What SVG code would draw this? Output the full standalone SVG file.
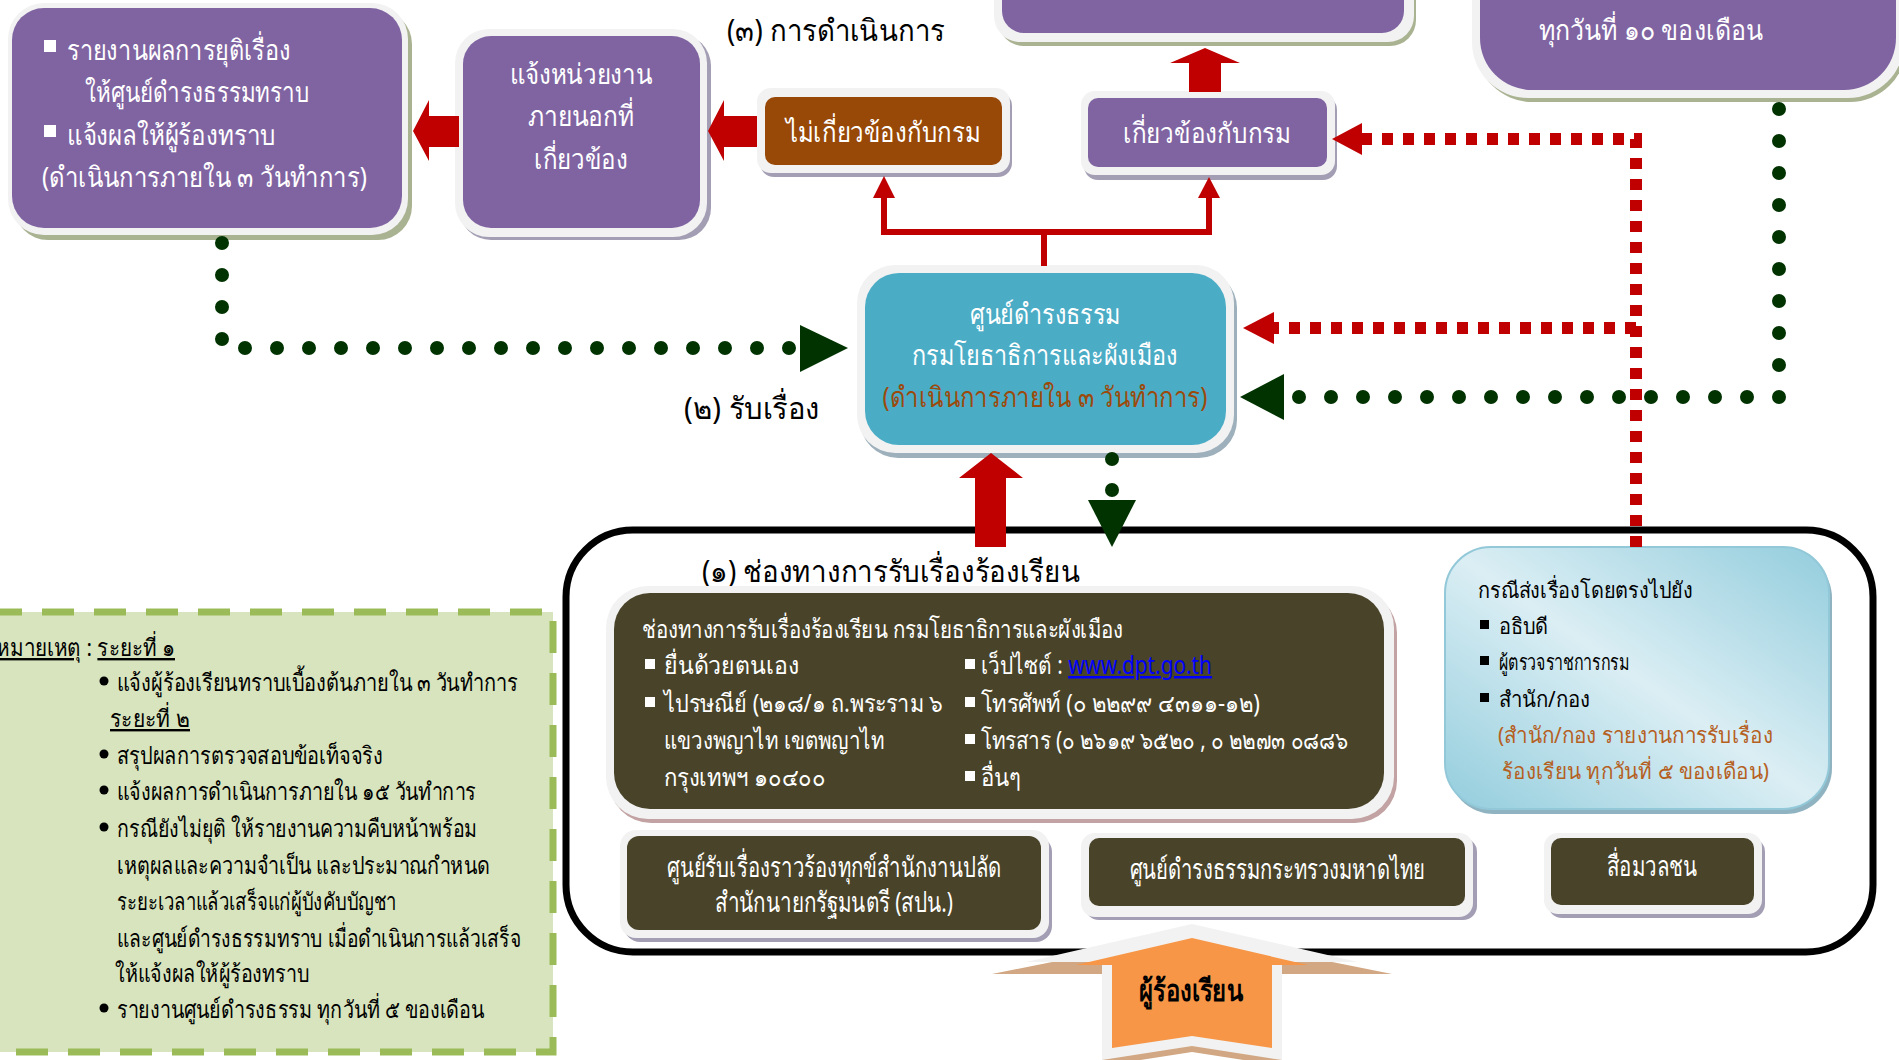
<svg xmlns="http://www.w3.org/2000/svg" width="1899" height="1060" viewBox="0 0 1899 1060">
<defs>
<linearGradient id="gBlue" x1="0" y1="1" x2="1" y2="0">
<stop offset="0" stop-color="#93cddd"/>
<stop offset="0.5" stop-color="#dbeef4"/>
<stop offset="1" stop-color="#93cddd"/>
</linearGradient>
<style>
text{font-family:"Noto Sans","DejaVu Sans",sans-serif;}
.w{fill:#fff}
.k{fill:#000}
.fr{fill:#f2f2f2}
.pu{fill:#8064A2}
.shg{fill:#a9b291}
.shp{fill:#a49eb4}
.b28{font-size:28px}
.b30{font-size:30px}
.b25{font-size:25px}
.b24{font-size:24px}
.b22{font-size:22px}
.c{text-anchor:middle}
.u{text-decoration:underline}
.gd{fill:none;stroke:#003300;stroke-width:14;stroke-linecap:round;stroke-dasharray:0 32}
.rd{fill:none;stroke:#c00000;stroke-width:12;stroke-dasharray:11 10}
.rs{fill:none;stroke:#c00000;stroke-width:6}
.ra{fill:#c00000}
.ga{fill:#003300}
</style>
</defs>
<rect width="1899" height="1060" fill="#fff"/>

<!-- Legend -->
<g id="legend">
<rect x="-10" y="612" width="563" height="440" fill="#d7e4bd" stroke="#9bbb59" stroke-width="7" stroke-dasharray="32 20"/>
<text x="-4" y="656" class="b24 k" textLength="179" lengthAdjust="spacingAndGlyphs"><tspan class="u">หมายเหตุ</tspan> : <tspan class="u">ระยะที่ ๑</tspan></text>
<circle cx="104" cy="681" r="4.5" class="k"/>
<text x="117" y="691" class="b24 k" textLength="401" lengthAdjust="spacingAndGlyphs">แจ้งผู้ร้องเรียนทราบเบื้องต้นภายใน ๓ วันทำการ</text>
<text x="110" y="727" class="b24 k u" textLength="80" lengthAdjust="spacingAndGlyphs">ระยะที่ ๒</text>
<circle cx="104" cy="754" r="4.5" class="k"/>
<text x="117" y="764" class="b24 k" textLength="266" lengthAdjust="spacingAndGlyphs">สรุปผลการตรวจสอบข้อเท็จจริง</text>
<circle cx="104" cy="790" r="4.5" class="k"/>
<text x="117" y="800" class="b24 k" textLength="359" lengthAdjust="spacingAndGlyphs">แจ้งผลการดำเนินการภายใน ๑๕ วันทำการ</text>
<circle cx="104" cy="827" r="4.5" class="k"/>
<text x="117" y="837" class="b24 k" textLength="360" lengthAdjust="spacingAndGlyphs">กรณียังไม่ยุติ ให้รายงานความคืบหน้าพร้อม</text>
<text x="117" y="874" class="b24 k" textLength="373" lengthAdjust="spacingAndGlyphs">เหตุผลและความจำเป็น และประมาณกำหนด</text>
<text x="117" y="910" class="b24 k" textLength="279" lengthAdjust="spacingAndGlyphs">ระยะเวลาแล้วเสร็จแก่ผู้บังคับบัญชา</text>
<text x="117" y="947" class="b24 k" textLength="404" lengthAdjust="spacingAndGlyphs">และศูนย์ดำรงธรรมทราบ เมื่อดำเนินการแล้วเสร็จ</text>
<text x="115" y="982" class="b24 k" textLength="194" lengthAdjust="spacingAndGlyphs">ให้แจ้งผลให้ผู้ร้องทราบ</text>
<circle cx="104" cy="1008" r="4.5" class="k"/>
<text x="117" y="1018" class="b24 k" textLength="367" lengthAdjust="spacingAndGlyphs">รายงานศูนย์ดำรงธรรม ทุกวันที่ ๕ ของเดือน</text>
</g>

<!-- Container -->
<g id="channels-container">
<rect x="566" y="530" width="1307" height="422" rx="67" fill="#fff" stroke="#000" stroke-width="7"/>
<text x="702" y="582" class="b30 k" textLength="378" lengthAdjust="spacingAndGlyphs">(๑) ช่องทางการรับเรื่องร้องเรียน</text>
</g>

<!-- Labels -->
<g id="label-3"><text x="727" y="41" class="b30 k" textLength="218" lengthAdjust="spacingAndGlyphs">(๓) การดำเนินการ</text></g>
<g id="label-2"><text x="684" y="419" class="b30 k" textLength="136" lengthAdjust="spacingAndGlyphs">(๒) รับเรื่อง</text></g>

<!-- Box 1 -->
<g id="report-box">
<rect x="14" y="10" width="398" height="230" rx="34" class="shg"/>
<rect x="8" y="3" width="400" height="232" rx="36" class="fr"/>
<rect x="12" y="8" width="390" height="220" rx="32" class="pu"/>
<rect x="44" y="40" width="12" height="12" class="w"/>
<text x="67" y="60" class="b28 w" textLength="224" lengthAdjust="spacingAndGlyphs">รายงานผลการยุติเรื่อง</text>
<text x="85" y="102" class="b28 w" textLength="224" lengthAdjust="spacingAndGlyphs">ให้ศูนย์ดำรงธรรมทราบ</text>
<rect x="44" y="125" width="12" height="12" class="w"/>
<text x="67" y="145" class="b28 w" textLength="209" lengthAdjust="spacingAndGlyphs">แจ้งผลให้ผู้ร้องทราบ</text>
<text x="42" y="187" class="b28 w" textLength="325" lengthAdjust="spacingAndGlyphs">(ดำเนินการภายใน ๓ วันทำการ)</text>
</g>

<!-- Box 2 -->
<g id="notify-external">
<rect x="459" y="34" width="252" height="206" rx="32" class="shp"/>
<rect x="455" y="29" width="252" height="208" rx="34" class="fr"/>
<rect x="463" y="36" width="237" height="192" rx="28" class="pu"/>
<text x="581" y="84" class="b28 w c" textLength="143" lengthAdjust="spacingAndGlyphs">แจ้งหน่วยงาน</text>
<text x="581" y="126" class="b28 w c" textLength="106" lengthAdjust="spacingAndGlyphs">ภายนอกที่</text>
<text x="581" y="169" class="b28 w c" textLength="94" lengthAdjust="spacingAndGlyphs">เกี่ยวข้อง</text>
</g>

<!-- Brown box -->
<g id="not-related">
<rect x="760" y="92" width="252" height="85" rx="14" class="shp"/>
<rect x="757" y="88" width="253" height="85" rx="14" class="fr"/>
<rect x="765" y="97" width="237" height="68" rx="10" fill="#984807"/>
<text x="883" y="142" class="b28 w c" textLength="194" lengthAdjust="spacingAndGlyphs">ไม่เกี่ยวข้องกับกรม</text>
</g>

<!-- Related box -->
<g id="related">
<rect x="1084" y="96" width="253" height="84" rx="14" class="shp"/>
<rect x="1081" y="91" width="254" height="84" rx="14" class="fr"/>
<rect x="1088" y="98" width="239" height="69" rx="10" class="pu"/>
<text x="1207" y="143" class="b28 w c" textLength="168" lengthAdjust="spacingAndGlyphs">เกี่ยวข้องกับกรม</text>
</g>

<!-- Top center box (cut) -->
<g id="top-center">
<rect x="998" y="-40" width="418" height="86" rx="26" class="shg"/>
<rect x="994" y="-40" width="420" height="82" rx="26" class="fr"/>
<rect x="1002" y="-40" width="402" height="73" rx="22" class="pu"/>
</g>

<!-- Top right box -->
<g id="top-right">
<rect x="1476" y="-60" width="430" height="162" rx="56" class="shg"/>
<rect x="1472" y="-60" width="432" height="158" rx="56" class="fr"/>
<rect x="1480" y="-60" width="416" height="150" rx="52" class="pu"/>
<text x="1651" y="40" class="b28 w c" textLength="224" lengthAdjust="spacingAndGlyphs">ทุกวันที่ ๑๐ ของเดือน</text>
</g>

<!-- Center box -->
<g id="center">
<rect x="860" y="270" width="377" height="188" rx="38" fill="#9db0bb"/>
<rect x="857" y="265" width="377" height="188" rx="38" class="fr"/>
<rect x="865" y="273" width="361" height="172" rx="34" fill="#4bacc6"/>
<text x="1045" y="324" class="b28 w c" textLength="151" lengthAdjust="spacingAndGlyphs">ศูนย์ดำรงธรรม</text>
<text x="1045" y="365" class="b28 w c" textLength="266" lengthAdjust="spacingAndGlyphs">กรมโยธาธิการและผังเมือง</text>
<text x="1045" y="407" class="b28 c" fill="#9c4a0c" textLength="325" lengthAdjust="spacingAndGlyphs">(ดำเนินการภายใน ๓ วันทำการ)</text>
</g>

<!-- Olive box -->
<g id="dpt-channels">
<rect x="609" y="591" width="788" height="232" rx="42" fill="#c2a2a2"/>
<rect x="606" y="586" width="788" height="233" rx="42" class="fr"/>
<rect x="614" y="593" width="770" height="216" rx="36" fill="#494429"/>
<text x="642" y="638" class="b25 w" textLength="481" lengthAdjust="spacingAndGlyphs">ช่องทางการรับเรื่องร้องเรียน กรมโยธาธิการและผังเมือง</text>
<rect x="645" y="659" width="10" height="10" class="w"/>
<text x="664" y="674" class="b25 w" textLength="135" lengthAdjust="spacingAndGlyphs">ยื่นด้วยตนเอง</text>
<rect x="645" y="697" width="10" height="10" class="w"/>
<text x="664" y="712" class="b25 w" textLength="279" lengthAdjust="spacingAndGlyphs">ไปรษณีย์ (๒๑๘/๑ ถ.พระราม ๖</text>
<text x="664" y="749" class="b25 w" textLength="220" lengthAdjust="spacingAndGlyphs">แขวงพญาไท เขตพญาไท</text>
<text x="664" y="786" class="b25 w" textLength="161" lengthAdjust="spacingAndGlyphs">กรุงเทพฯ ๑๐๔๐๐</text>
<rect x="965" y="659" width="10" height="10" class="w"/>
<text x="981" y="674" class="b25 w" textLength="231" lengthAdjust="spacingAndGlyphs">เว็ปไซต์ : <tspan class="u" fill="#0000ff">www.dpt.go.th</tspan></text>
<rect x="965" y="697" width="10" height="10" class="w"/>
<text x="981" y="712" class="b25 w" textLength="279" lengthAdjust="spacingAndGlyphs">โทรศัพท์ (๐ ๒๒๙๙ ๔๓๑๑-๑๒)</text>
<rect x="965" y="734" width="10" height="10" class="w"/>
<text x="981" y="749" class="b25 w" textLength="367" lengthAdjust="spacingAndGlyphs">โทรสาร (๐ ๒๖๑๙ ๖๕๒๐ , ๐ ๒๒๗๓ ๐๘๘๖</text>
<rect x="965" y="771" width="10" height="10" class="w"/>
<text x="981" y="786" class="b25 w" textLength="40" lengthAdjust="spacingAndGlyphs">อื่นๆ</text>
</g>

<!-- Blue box -->
<g id="direct-cases">
<rect x="1448" y="552" width="384" height="262" rx="46" fill="#8fb3c0"/>
<rect x="1445" y="547" width="384" height="262" rx="46" fill="url(#gBlue)" stroke="#92c8d8" stroke-width="2"/>
<text x="1478" y="598" class="b22 k" textLength="215" lengthAdjust="spacingAndGlyphs">กรณีส่งเรื่องโดยตรงไปยัง</text>
<rect x="1480" y="620" width="9" height="9" class="k"/>
<text x="1499" y="634" class="b22 k" textLength="49" lengthAdjust="spacingAndGlyphs">อธิบดี</text>
<rect x="1480" y="656" width="9" height="9" class="k"/>
<text x="1499" y="670" class="b22 k" textLength="131" lengthAdjust="spacingAndGlyphs">ผู้ตรวจราชการกรม</text>
<rect x="1480" y="693" width="9" height="9" class="k"/>
<text x="1499" y="707" class="b22 k" textLength="91" lengthAdjust="spacingAndGlyphs">สำนัก/กอง</text>
<text x="1498" y="743" class="b22" fill="#b5601f" textLength="275" lengthAdjust="spacingAndGlyphs">(สำนัก/กอง รายงานการรับเรื่อง</text>
<text x="1502" y="779" class="b22" fill="#b5601f" textLength="267" lengthAdjust="spacingAndGlyphs">ร้องเรียน ทุกวันที่ ๕ ของเดือน)</text>
</g>

<!-- Bottom boxes -->
<g id="opm-center">
<rect x="624" y="836" width="428" height="106" rx="16" class="shp"/>
<rect x="620" y="830" width="429" height="108" rx="16" class="fr"/>
<rect x="627" y="836" width="414" height="94" rx="12" fill="#494429"/>
<text x="834" y="877" class="b28 w c" textLength="334" lengthAdjust="spacingAndGlyphs">ศูนย์รับเรื่องราวร้องทุกข์สำนักงานปลัด</text>
<text x="834" y="912" class="b28 w c" textLength="238" lengthAdjust="spacingAndGlyphs">สำนักนายกรัฐมนตรี (สปน.)</text>
</g>
<g id="moi-center">
<rect x="1085" y="838" width="392" height="82" rx="14" class="shp"/>
<rect x="1081" y="833" width="392" height="84" rx="14" class="fr"/>
<rect x="1089" y="838" width="376" height="68" rx="10" fill="#494429"/>
<text x="1277" y="879" class="b28 w c" textLength="295" lengthAdjust="spacingAndGlyphs">ศูนย์ดำรงธรรมกระทรวงมหาดไทย</text>
</g>
<g id="media">
<rect x="1548" y="838" width="217" height="80" rx="14" class="shp"/>
<rect x="1544" y="833" width="218" height="81" rx="14" class="fr"/>
<rect x="1551" y="838" width="203" height="67" rx="10" fill="#494429"/>
<text x="1652" y="876" class="b28 w c" textLength="90" lengthAdjust="spacingAndGlyphs">สื่อมวลชน</text>
</g>

<!-- Complainant arrow -->
<g id="complainant">
<polygon points="1192,934 1392,974 1282,974 1282,1066 1192,1052 1102,1066 1102,974 992,974" fill="#d1a883"/>
<polygon points="1192,924 1358,962 1282,962 1282,1060 1192,1046 1102,1060 1102,962 1026,962" fill="#f2f2f2"/>
<polygon points="1192,938 1308,965 1272,965 1272,1048 1192,1036 1112,1048 1112,965 1076,965" fill="#f79646"/>
<text x="1191" y="1001" class="b30 k c" font-weight="bold" textLength="105" lengthAdjust="spacingAndGlyphs">ผู้ร้องเรียน</text>
</g>

<!-- Connectors -->
<g id="connectors">
<path class="gd" d="M222 243 V348 H800"/>
<polygon class="ga" points="800,325 848,348 800,372"/>
<path class="gd" d="M1779 109 V397 H1290"/>
<polygon class="ga" points="1284,374 1240,397 1284,420"/>
<circle class="ga" cx="1112" cy="459" r="7"/>
<circle class="ga" cx="1112" cy="490" r="7"/>
<polygon class="ga" points="1088,500 1136,500 1112,547"/>
<path class="rd" d="M1636 547 V139 H1362"/>
<polygon class="ra" points="1362,123 1332,139 1362,155"/>
<path class="rd" d="M1636 328 H1272"/>
<polygon class="ra" points="1274,312 1243,328 1274,344"/>
<path class="rs" d="M1044 266 V232 H884 V196 M1044 232 H1209 V196"/>
<polygon class="ra" points="873,198 884,176 895,198"/>
<polygon class="ra" points="1198,198 1209,177 1220,198"/>
<polygon class="ra" points="413,131 429,100 429,116 459,116 459,147 429,147 429,161"/>
<polygon class="ra" points="708,131 724,100 724,116 757,116 757,147 724,147 724,161"/>
<polygon class="ra" points="1205,48 1240,63 1221,63 1221,92 1189,92 1189,63 1170,63"/>
<polygon class="ra" points="991,453 1023,478 1006,478 1006,547 975,547 975,478 959,478"/>
</g>
</svg>
